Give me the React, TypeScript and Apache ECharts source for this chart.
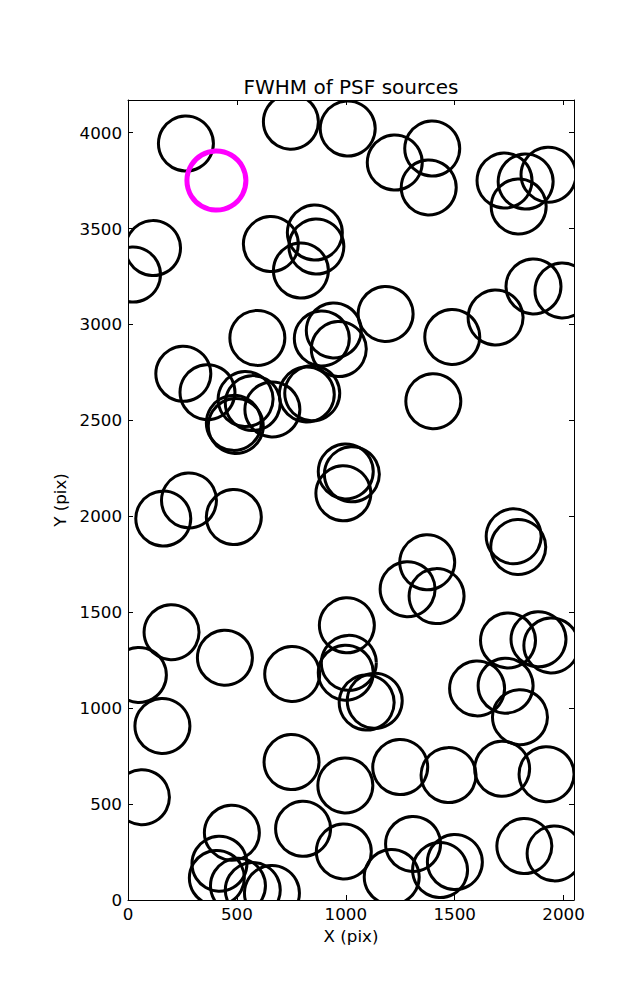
import React, { useEffect, useRef } from "react";
import * as echarts from "echarts";

const sourceX = [266, 748, 1009, 1225, 1397, 1381, 1729, 1826, 1931, 1794, 115, 23, 656, 858, 865, 794, 1183, 1489, 1688, 1862, 1995, 890, 945, 968, 594, 254, 365, 540, 573, 486, 495, 663, 821, 846, 1402, 1000, 1028, 989, 162, 280, 486, 1771, 1792, 1374, 1284, 1417, 200, 50, 445, 754, 1005, 1014, 1000, 1096, 1133, 1745, 1885, 1944, 1603, 1734, 1800, 158, 64, 751, 998, 1250, 1472, 1718, 1922, 804, 991, 477, 420, 408, 505, 573, 661, 1211, 1309, 1433, 1501, 1820, 1959];
const sourceY = [3943, 4057, 4021, 3844, 3917, 3714, 3750, 3745, 3781, 3615, 3398, 3260, 3419, 3479, 3406, 3281, 3055, 2935, 3036, 3198, 3177, 2927, 2969, 2872, 2930, 2743, 2647, 2611, 2590, 2487, 2471, 2557, 2635, 2641, 2600, 2234, 2219, 2120, 1988, 2083, 1996, 1896, 1840, 1760, 1620, 1584, 1396, 1173, 1263, 1178, 1432, 1236, 1185, 1029, 1038, 1353, 1359, 1327, 1103, 1117, 953, 907, 536, 719, 597, 693, 651, 684, 656, 371, 253, 351, 189, 115, 74, 52, 36, 120, 292, 156, 198, 281, 243];
const selectedX = [406];
const selectedY = [3750];

const xTicks = [0, 500, 1000, 1500, 2000];
const yTicks = [0, 500, 1000, 1500, 2000, 2500, 3000, 3500, 4000];
const X_MAX = 2048;
const Y_MAX = 4170;

const FONT = "DejaVu Sans";

function ringSeries(data: number[][], radius: number, color: string, width: number) {
  return {
    type: "custom",
    data,
    clip: true,
    silent: true,
    renderItem: (params: any, api: any) => {
      const p = api.coord([api.value(0), api.value(1)]);
      return {
        type: "circle",
        shape: { cx: p[0], cy: p[1], r: radius },
        style: { fill: "none", stroke: color, lineWidth: width },
      };
    },
  };
}

export default function App() {
  const ref = useRef<HTMLDivElement>(null);
  useEffect(() => {
    if (!ref.current) return;
    const chart = echarts.init(ref.current, null, { renderer: "svg" });
    const black = sourceX.map((x, i) => [x, sourceY[i]]);
    const pink = selectedX.map((x, i) => [x, selectedY[i]]);
    const fmtX = (v: number) => (xTicks.includes(v) ? String(v) : "");
    const fmtY = (v: number) => (yTicks.includes(v) ? String(v) : "");
    const tick = { show: true, inside: true, length: 5, lineStyle: { color: "#000", width: 1 } };
    chart.setOption({
      animation: false,
      backgroundColor: "#fff",
      grid: { left: 128, right: 63, top: 100, bottom: 100, containLabel: false },
      graphic: [
        {
          type: "text",
          x: 351,
          y: 87,
          style: {
            text: "FWHM of PSF sources",
            font: `20px '${FONT}'`,
            fill: "#000",
            align: "center",
            verticalAlign: "middle",
          },
        },
      ],
      xAxis: [
        {
          type: "value",
          min: 0,
          max: X_MAX,
          interval: 500,
          position: "bottom",
          name: "X (pix)",
          nameLocation: "middle",
          nameGap: 27,
          nameTextStyle: { fontFamily: FONT, fontSize: 16.7, color: "#000" },
          axisLine: { show: true, onZero: false, lineStyle: { color: "#000", width: 1 } },
          axisTick: tick,
          axisLabel: { formatter: fmtX, fontFamily: FONT, fontSize: 16.7, color: "#000", margin: 5 },
          splitLine: { show: false },
        },
        {
          type: "value",
          min: 0,
          max: X_MAX,
          interval: 500,
          position: "top",
          axisLine: { show: true, onZero: false, lineStyle: { color: "#000", width: 1 } },
          axisTick: tick,
          axisLabel: { show: false },
          splitLine: { show: false },
        },
      ],
      yAxis: [
        {
          type: "value",
          min: 0,
          max: Y_MAX,
          interval: 500,
          position: "left",
          name: "Y (pix)",
          nameLocation: "middle",
          nameGap: 55,
          nameTextStyle: { fontFamily: FONT, fontSize: 16.7, color: "#000" },
          axisLine: { show: true, onZero: false, lineStyle: { color: "#000", width: 1 } },
          axisTick: tick,
          axisLabel: { formatter: fmtY, fontFamily: FONT, fontSize: 16.7, color: "#000", margin: 6 },
          splitLine: { show: false },
        },
        {
          type: "value",
          min: 0,
          max: Y_MAX,
          interval: 500,
          position: "right",
          axisLine: { show: true, onZero: false, lineStyle: { color: "#000", width: 1 } },
          axisTick: tick,
          axisLabel: { show: false },
          splitLine: { show: false },
        },
      ],
      series: [
        ringSeries(black, 27.5, "#000", 3),
        ringSeries(pink, 29.5, "#ff00ff", 5),
      ],
    });
    return () => chart.dispose();
  }, []);
  return <div ref={ref} style={{ width: 637, height: 1000, margin: -8 }} />;
}
